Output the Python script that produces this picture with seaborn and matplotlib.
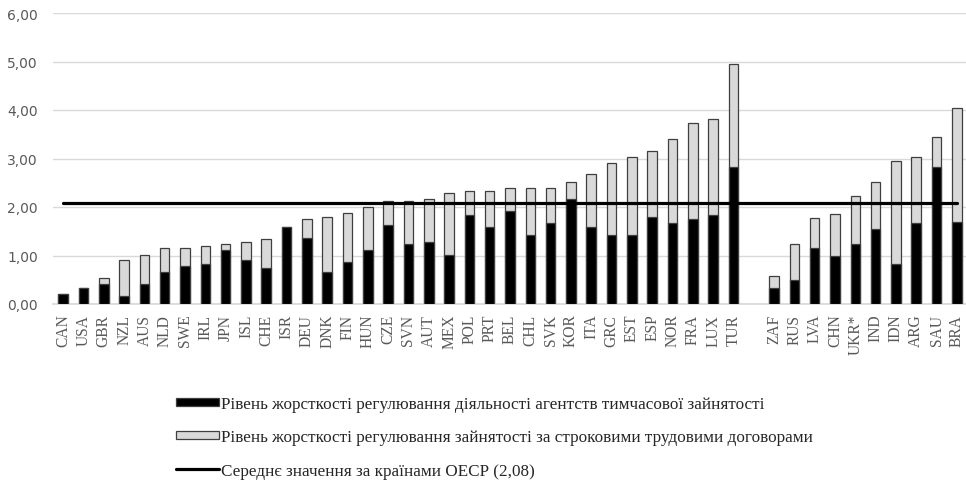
import numpy as np
import pandas as pd
import matplotlib
matplotlib.use("Agg")
import matplotlib.pyplot as plt
import seaborn as sns

# Country codes: OECD members, then partner economies
oecd_countries = ["CAN", "USA", "GBR", "NZL", "AUS", "NLD", "SWE", "IRL", "JPN", "ISL",
                  "CHE", "ISR", "DEU", "DNK", "FIN", "HUN", "CZE", "SVN", "AUT", "MEX",
                  "POL", "PRT", "BEL", "CHL", "SVK", "KOR", "ITA", "GRC", "EST", "ESP",
                  "NOR", "FRA", "LUX", "TUR"]
partner_countries = ["ZAF", "RUS", "LVA", "CHN", "UKR*", "IND", "IDN", "ARG", "SAU", "BRA"]

# Temporary work agency regulation strictness
temp_agency = [0.21, 0.33, 0.41, 0.17, 0.41, 0.66, 0.78, 0.82, 1.11, 0.91,
               0.74, 1.58, 1.36, 0.66, 0.87, 1.11, 1.62, 1.23, 1.27, 1.02,
               1.83, 1.58, 1.91, 1.42, 1.66, 2.16, 1.58, 1.42, 1.42, 1.79,
               1.66, 1.75, 1.83, 2.83,
               0.33, 0.49, 1.15, 0.99, 1.24, 1.55, 0.82, 1.66, 2.83, 1.70]
# Fixed-term contract regulation strictness (stacked on top)
fixed_term = [0.00, 0.00, 0.13, 0.73, 0.61, 0.49, 0.37, 0.37, 0.12, 0.36,
              0.61, 0.00, 0.39, 1.13, 1.00, 0.88, 0.50, 0.89, 0.89, 1.26,
              0.49, 0.74, 0.49, 0.98, 0.74, 0.36, 1.11, 1.49, 1.62, 1.37,
              1.74, 1.98, 1.98, 2.11,
              0.25, 0.74, 0.63, 0.87, 0.99, 0.97, 2.13, 1.38, 0.62, 2.35]
oecd_average = 2.08

yticks = [0, 1, 2, 3, 4, 5, 6]

label_agency = "Рівень жорсткості регулювання діяльності агентств тимчасової зайнятості"
label_fixed = "Рівень жорсткості регулювання зайнятості за строковими трудовими договорами"
label_avg = "Середнє значення за країнами ОЕСР (2,08)"

countries = oecd_countries + partner_countries
df = pd.DataFrame({
    "country": countries,
    "agency": temp_agency,
    "total": np.array(temp_agency) + np.array(fixed_term),
})
order = oecd_countries + [" "] + partner_countries

sns.set_theme(style="white")
plt.rcParams["font.family"] = ["DejaVu Sans"]

fig = plt.figure(figsize=(9.66, 4.81), dpi=100)
fig.patch.set_facecolor("white")
ax = fig.add_axes([53 / 966, 176 / 481, 914 / 966, 291 / 481])

edge = "#3f3f3f"
sns.barplot(data=df, x="country", y="total", order=order, color="#d9d9d9",
            saturation=1, width=0.47, edgecolor=edge, linewidth=0.9,
            label=label_fixed, ax=ax, zorder=2)
sns.barplot(data=df, x="country", y="agency", order=order, color="black",
            saturation=1, width=0.47, edgecolor=edge, linewidth=0.9,
            label=label_agency, ax=ax, zorder=3)
sns.lineplot(x=np.arange(len(order)), y=[oecd_average] * len(order),
             color="black", linewidth=2.3, label=label_avg, ax=ax, zorder=4)

ax.set_xlim(-0.5, len(order) - 0.5)
ax.set_ylim(0, 6)
ax.set_yticks(yticks)
ax.set_yticklabels([f"{v:.2f}".replace(".", ",") for v in yticks],
                   color="#595959", fontsize=10)
ax.yaxis.grid(True, color="#d9d9d9", linewidth=1)
ax.set_axisbelow(True)
ax.set_xlabel("")
ax.set_ylabel("")
for s in ["top", "right", "left"]:
    ax.spines[s].set_visible(False)
ax.spines["bottom"].set_color("#d9d9d9")
ax.tick_params(axis="both", length=0)
ax.tick_params(axis="y", pad=11)
ax.tick_params(axis="x", pad=7)
ax.set_xticks(range(len(order)))
ax.set_xticklabels(order, rotation=90, family="Liberation Serif",
                   fontsize=11.2, color="#595959")

handles, labels = ax.get_legend_handles_labels()
if ax.get_legend():
    ax.get_legend().remove()
lookup = dict(zip(labels, handles))
fig.legend([lookup[label_agency], lookup[label_fixed], lookup[label_avg]],
           [label_agency, label_fixed, label_avg],
           loc="upper left", bbox_to_anchor=(161 / 966, 1 - 382 / 481),
           frameon=False, ncol=1, handlelength=2.5, handleheight=0.35,
           handletextpad=0.1, labelspacing=1.0,
           prop={"family": "Liberation Serif", "size": 12.3})
for t in fig.legends[0].get_texts():
    t.set_color("#262626")

fig.savefig("out.png", dpi=100, facecolor="white")
